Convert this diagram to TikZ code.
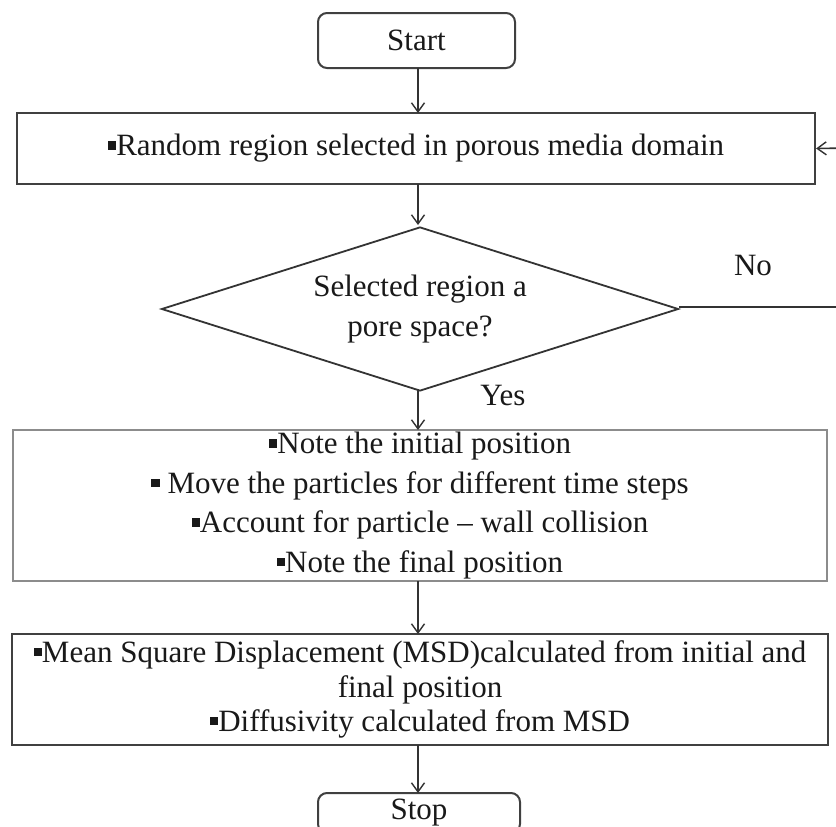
\documentclass[tikz,border=0pt]{standalone}
\usepackage{fontspec}
\setmainfont{Liberation Serif}
\usetikzlibrary{shapes.geometric,arrows.meta}
\newcommand\sqb{\rule[0.2em]{0.27em}{0.27em}}
\tikzset{
  txt/.style={font=\fontsize{31}{36}\selectfont, text=black!90},
  boxA/.style={draw=black!75, line width=2.2pt, inner sep=0pt, txt},
  boxL/.style={draw=black!45, line width=1.4pt, inner sep=0pt, txt},
  term/.style={draw=black!75, line width=2pt, rounded corners=9pt, inner sep=0pt, txt},
  dia/.style={draw=black!80, shape=diamond, line width=1.8pt, inner sep=0pt, aspect=3.15, txt},
  arr/.style={draw=black!80, line width=1.6pt, -{Straight Barb[length=9pt,width=13pt,line width=1.4pt]}},
  lin/.style={draw=black!80, line width=1.6pt}
}
\begin{document}
\begin{tikzpicture}[x=1pt,y=-1pt]
\clip (0,0) rectangle (836,827);
\fill[white] (0,0) rectangle (836,827);
\node[term, minimum width=197pt, minimum height=55pt] (start) at (416.5,40.5) {Start};
\node[boxA, minimum width=798pt, minimum height=71pt] (box1) at (416,148.5) {\sqb Random region selected in porous media domain};
\node[dia, minimum width=517pt, minimum height=164pt, align=center, font=\fontsize{31}{40}\selectfont] (dec) at (420,309) {Selected region a\\pore space?};
\node[boxL, minimum width=814pt, minimum height=151pt, align=center, font=\fontsize{31}{39.5}\selectfont] (box3) at (420,505.5)
  {\sqb Note the initial position\\\sqb{} Move the particles for different time steps\\\sqb Account for particle -- wall collision\\\sqb Note the final position};
\node[boxA, minimum width=816pt, minimum height=111pt, align=center, font=\fontsize{31}{34.5}\selectfont] (box4) at (420,689.5)
  {\sqb Mean Square Displacement (MSD)calculated from initial and\\final position\\\sqb Diffusivity calculated from MSD};
\node[term, minimum width=202pt, minimum height=40pt] (stop) at (419,813) {Stop};
\node[txt] (no) at (753,265) {No};
\node[txt] (yes) at (503,395) {Yes};
\coordinate (c1) at (850,307);
\coordinate (c2) at (850,148);
\draw[arr] (418,68) -- (418,113);
\draw[arr] (418,184) -- (418,225);
\draw[arr] (418,389) -- (418,430);
\draw[arr] (418,581) -- (418,634);
\draw[arr] (418,745) -- (418,793);
\draw[lin] (418+261,307) -- (c1) -- (c2);
\draw[arr] (c2) -- (box1.east);
\end{tikzpicture}
\end{document}
